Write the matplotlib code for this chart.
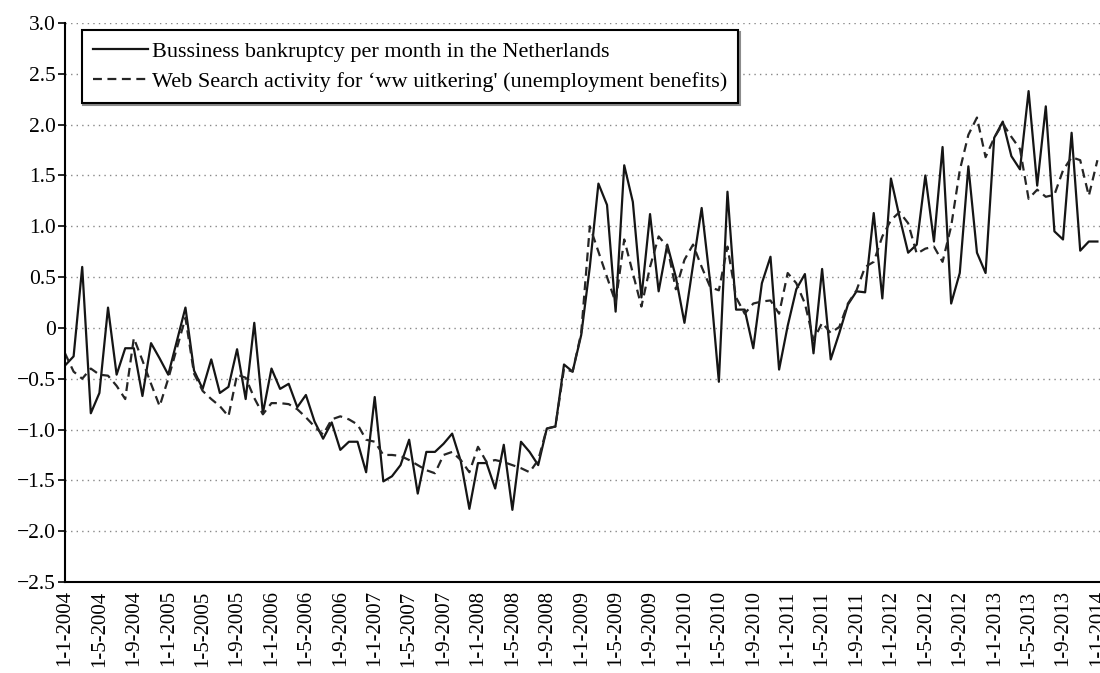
import matplotlib
matplotlib.use("Agg")
import matplotlib.pyplot as plt
import numpy as np

plt.rcParams['font.family'] = ['Liberation Serif', 'DejaVu Serif']

# monthly values, 1-1-2004 .. 1-1-2014
bankruptcy = [
    -0.37, -0.28, 0.60, -0.84, -0.64, 0.20, -0.46, -0.20, -0.20, -0.67,
    -0.15, -0.30, -0.46, -0.13, 0.20, -0.42, -0.60, -0.31, -0.64, -0.58,
    -0.21, -0.70, 0.05, -0.84, -0.40, -0.60, -0.55, -0.78, -0.66, -0.92,
    -1.09, -0.93, -1.20, -1.12, -1.12, -1.42, -0.68, -1.51, -1.46, -1.35,
    -1.10, -1.63, -1.22, -1.22, -1.14, -1.04, -1.31, -1.78, -1.33, -1.33,
    -1.58, -1.15, -1.79, -1.12, -1.22, -1.35, -0.99, -0.97, -0.36, -0.43,
    -0.07, 0.60, 1.42, 1.21, 0.16, 1.60, 1.24, 0.30, 1.12, 0.36,
    0.82, 0.50, 0.05, 0.62, 1.18, 0.44, -0.53, 1.34, 0.18, 0.18,
    -0.20, 0.44, 0.70, -0.41, 0.02, 0.38, 0.53, -0.25, 0.58, -0.31,
    -0.05, 0.23, 0.36, 0.35, 1.13, 0.29, 1.47, 1.09, 0.74, 0.82,
    1.50, 0.85, 1.78, 0.24, 0.54, 1.59, 0.74, 0.54, 1.87, 2.03,
    1.69, 1.56, 2.33, 1.40, 2.18, 0.95, 0.87, 1.92, 0.76, 0.85,
    0.85,
]
web_search = [
    -0.25, -0.43, -0.50, -0.40, -0.46, -0.47, -0.57, -0.70, -0.10, -0.32,
    -0.55, -0.77, -0.50, -0.20, 0.10, -0.45, -0.62, -0.70, -0.77, -0.87,
    -0.46, -0.49, -0.69, -0.85, -0.74, -0.74, -0.75, -0.80, -0.88, -0.97,
    -1.05, -0.90, -0.87, -0.90, -0.95, -1.10, -1.12, -1.25, -1.25, -1.26,
    -1.30, -1.35, -1.40, -1.43, -1.25, -1.22, -1.30, -1.42, -1.17, -1.32,
    -1.30, -1.32, -1.35, -1.38, -1.42, -1.30, -0.99, -0.97, -0.40, -0.43,
    -0.05, 1.00, 0.75, 0.50, 0.25, 0.87, 0.54, 0.21, 0.60, 0.90,
    0.80, 0.38, 0.67, 0.82, 0.60, 0.40, 0.37, 0.80, 0.30, 0.14,
    0.24, 0.26, 0.27, 0.14, 0.54, 0.44, 0.24, -0.12, 0.05, -0.05,
    0.01, 0.24, 0.37, 0.60, 0.65, 0.90, 1.06, 1.14, 1.03, 0.73,
    0.78, 0.80, 0.65, 1.00, 1.55, 1.90, 2.07, 1.68, 1.87, 2.01,
    1.88, 1.76, 1.27, 1.36, 1.29, 1.31, 1.55, 1.68, 1.65, 1.30,
    1.65,
]
tick_labels = [
    '1-1-2004', '1-5-2004', '1-9-2004', '1-1-2005', '1-5-2005', '1-9-2005',
    '1-1-2006', '1-5-2006', '1-9-2006', '1-1-2007', '1-5-2007', '1-9-2007',
    '1-1-2008', '1-5-2008', '1-9-2008', '1-1-2009', '1-5-2009', '1-9-2009',
    '1-1-2010', '1-5-2010', '1-9-2010', '1-1-2011', '1-5-2011', '1-9-2011',
    '1-1-2012', '1-5-2012', '1-9-2012', '1-1-2013', '1-5-2013', '1-9-2013',
    '1-1-2014',
]
y_ticks = [3.0, 2.5, 2.0, 1.5, 1.0, 0.5, 0, -0.5, -1.0, -1.5, -2.0, -2.5]
y_labels = ['3.0', '2.5', '2.0', '1.5', '1.0', '0.5', '0',
            '\u22120.5', '\u22121.0', '\u22121.5', '\u22122.0', '\u22122.5']

months = np.arange(len(bankruptcy))

fig = plt.figure(figsize=(11, 6.73), dpi=100)
ax = fig.add_axes([65 / 1100, 91 / 673, 1 - 65 / 1100, 559 / 673])

ax.plot(months, bankruptcy, color='#151515', lw=1.6,
        label='Bussiness bankruptcy per month in the Netherlands')
ax.plot(months, web_search, color='#252525', lw=1.6, dashes=(4, 2.5),
        label="Web Search activity for \u2018ww uitkering' (unemployment benefits)")

ax.set_xlim(0, 120.3)
ax.set_ylim(-2.5, 3.0)
ax.set_yticks(y_ticks)
ax.set_yticklabels(y_labels, fontsize=15.5)
ax.set_xticks(months[::4])
ax.set_xticklabels(tick_labels, rotation=90, fontsize=15)
ax.tick_params(axis='x', length=0, pad=6)
ax.tick_params(axis='y', length=5, width=1.2, direction='out', pad=1.5)

ax.yaxis.grid(True, linestyle=(0, (1, 3)), color='#888888', lw=1.0)
ax.set_axisbelow(True)
for s in ['top', 'right']:
    ax.spines[s].set_visible(False)
for s in ['left', 'bottom']:
    ax.spines[s].set_linewidth(1.5)

leg = ax.legend(loc='upper left', bbox_to_anchor=(0.016, 0.987), fontsize=16,
                frameon=True, fancybox=False, edgecolor='black',
                shadow={'color': '0.55', 'alpha': 1, 'ox': 1.2, 'oy': -1.2},
                handlelength=2.5, handletextpad=0.15, borderpad=0.5,
                labelspacing=0.42, borderaxespad=0)
leg.get_frame().set_linewidth(1.5)
leg.get_frame().set_alpha(1)

fig.savefig('out.png', dpi=100)
